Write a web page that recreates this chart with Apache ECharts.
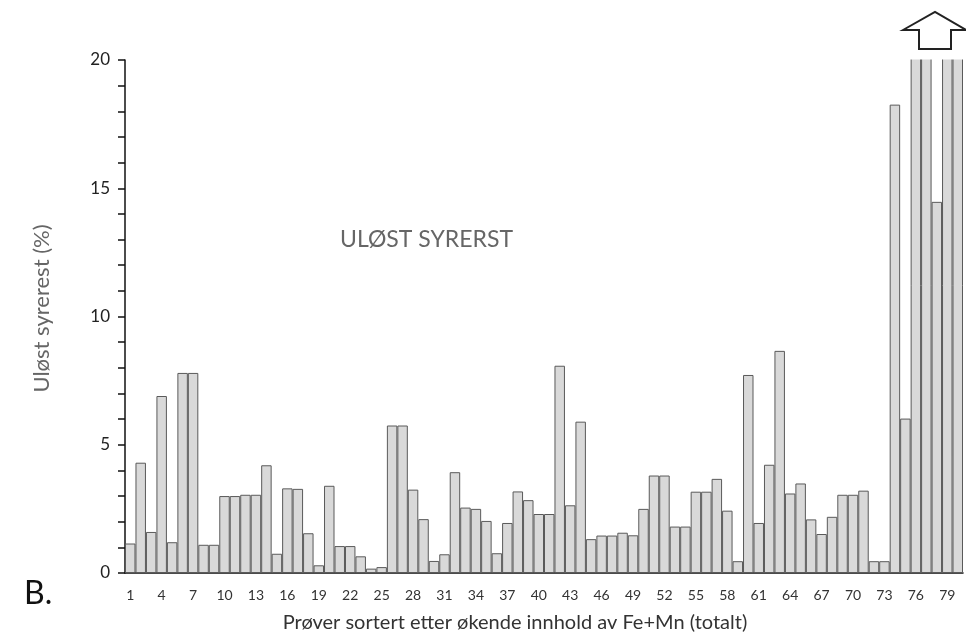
<!DOCTYPE html>
<html>
<head>
<meta charset="utf-8">
<script src="https://cdn.jsdelivr.net/npm/echarts@6/dist/echarts.min.js"></script>
<style>
  html, body { margin: 0; padding: 0; background: #fff; }
  #chart { width: 966px; height: 632px; }
</style>
</head>
<body>
<div id="chart"></div>
<script>
// prøvenummer 1..80
const samples = [];
for (let i = 1; i <= 80; i++) samples.push(String(i));

// uløst syrerest (%), bars 76, 77, 79, 80 are off scale (> 20)
const residue = [
  1.15, 4.3, 1.6, 6.9, 1.2, 7.8, 7.8, 1.1, 1.1, 3.0,
  3.0, 3.05, 3.05, 4.2, 0.75, 3.3, 3.28, 1.55, 0.3, 3.4,
  1.05, 1.05, 0.65, 0.17, 0.23, 5.75, 5.75, 3.25, 2.1, 0.47,
  0.73, 3.93, 2.55, 2.5, 2.03, 0.77, 1.95, 3.18, 2.84, 2.3,
  2.3, 8.08, 2.64, 5.9, 1.32, 1.46, 1.46, 1.57, 1.47, 2.5,
  3.8, 3.8, 1.81, 1.81, 3.17, 3.17, 3.67, 2.43, 0.46, 7.72,
  1.95, 4.22, 8.66, 3.1, 3.49, 2.09, 1.52, 2.19, 3.05, 3.05,
  3.21, 0.46, 0.46, 18.26, 6.02, 24, 24, 14.47, 24, 24
];

const yMin = 0;
const yMax = 20;
const yStep = 5;

const font = 'Lato, "Open Sans", sans-serif';

const chart = echarts.init(document.getElementById('chart'));

const option = {
  animation: false,
  grid: { left: 125, right: 3, top: 60, bottom: 59, containLabel: false, outerBoundsMode: 'none' },
  xAxis: {
    type: 'category',
    data: samples,
    boundaryGap: true,
    name: 'Prøver sortert etter økende innhold av Fe+Mn (totalt)',
    nameLocation: 'middle',
    nameGap: 40,
    nameTextStyle: { color: '#333', fontSize: 20, fontFamily: font, padding: [0, 58, 0, 0] },
    axisLine: { lineStyle: { color: '#111', width: 1.5 } },
    axisTick: { interval: 0, length: 6, lineStyle: { color: '#111', width: 1.5 } },
    axisLabel: { interval: 2, color: '#333', fontSize: 14, fontFamily: font, margin: 15 },
    splitLine: { show: false }
  },
  yAxis: {
    type: 'value',
    min: yMin,
    max: yMax,
    interval: yStep,
    name: 'Uløst syrerest (%)',
    nameLocation: 'middle',
    nameRotate: 90,
    nameGap: 72,
    nameTextStyle: { color: '#666', fontSize: 22, fontFamily: font, padding: [0, 0, 0, 16] },
    axisLine: { show: true, lineStyle: { color: '#111', width: 1.5 } },
    axisTick: { show: true, length: 7, lineStyle: { color: '#111', width: 1.5 } },
    minorTick: { show: true, splitNumber: 5, length: 7, lineStyle: { color: '#111', width: 1.5 } },
    axisLabel: { color: '#222', fontSize: 17, fontFamily: font, margin: 15 },
    splitLine: { show: false }
  },
  series: [{
    type: 'bar',
    data: residue,
    barCategoryGap: '0%',
    barWidth: '100%',
    clip: false,
    itemStyle: { color: '#d9d9d9', borderColor: '#5a5a5a', borderWidth: 1 }
  }],
  graphic: [
    {
      // hide the off-scale part of the tallest bars above the 20 % line
      type: 'rect', z: 100, silent: true,
      shape: { x: 127, y: 0, width: 839, height: 59.5 },
      style: { fill: '#fff' }
    },
    {
      type: 'text', left: 340, top: 228, z: 101,
      style: { text: 'ULØST SYRERST', fill: '#666', fontSize: 23, fontFamily: font }
    },
    {
      type: 'text', left: 24, top: 578, z: 101,
      style: { text: 'B.', fill: '#111', fontSize: 32, fontFamily: font }
    },
    {
      type: 'polygon', z: 101,
      shape: { points: [[903, 30], [935, 12], [966, 30], [951, 30], [951, 49], [919, 49], [919, 30]] },
      style: { fill: '#fff', stroke: '#222', lineWidth: 2 }
    }
  ]
};

chart.setOption(option);
window.onresize = () => { chart.resize(); };
</script>
</body>
</html>
